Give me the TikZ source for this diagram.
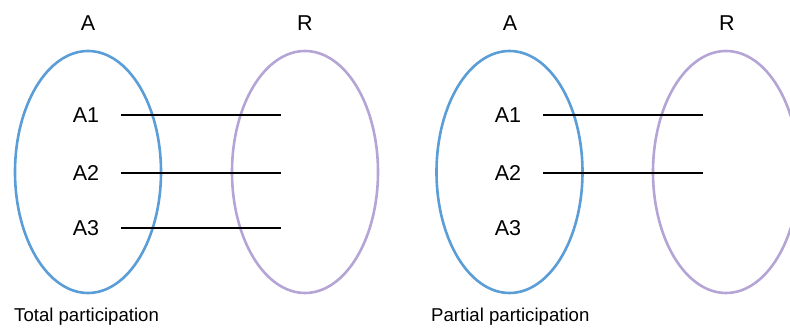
\documentclass[tikz,border=0pt]{standalone}
\usepackage{fontspec}
\setmainfont{Liberation Sans}
\usetikzlibrary{positioning,shapes.geometric}
\definecolor{setblue}{RGB}{91,157,214}
\definecolor{relpurple}{RGB}{180,165,214}

\begin{document}
\begin{tikzpicture}[x=1pt, y=-1pt,
  entityset/.style={ellipse, draw=setblue, line width=2.6pt, minimum width=146pt, minimum height=242pt, inner sep=0pt},
  relset/.style={ellipse, draw=relpurple, line width=2.6pt, minimum width=146pt, minimum height=242pt, inner sep=0pt},
  title/.style={font=\fontsize{21.5}{24}\selectfont, inner sep=0pt},
  elem/.style={font=\fontsize{21.5}{24}\selectfont, inner sep=0pt},
  caption/.style={font=\fontsize{18.6}{20}\selectfont, inner sep=0pt, anchor=west},
  link/.style={draw=black, line width=1.8pt}
]
\useasboundingbox (0,0) rectangle (790,328);
% total participation
\node[entityset] (setA) at (88,172) {};
\node[relset] (setR) at (305,172) {};
\node[title] (labA) at (88,23) {A};
\node[title] (labR) at (305,23) {R};
\node[elem] (a1) at (86,115) {A1};
\node[elem] (a2) at (86,173) {A2};
\node[elem] (a3) at (86,228) {A3};
\coordinate (r1) at (281,115);
\coordinate (r2) at (281,173);
\coordinate (r3) at (281,228);
\draw[link] ([xshift=22pt]a1.east) -- (r1);
\draw[link] ([xshift=22pt]a2.east) -- (r2);
\draw[link] ([xshift=22pt]a3.east) -- (r3);
\node[caption] (total) at (14,317) {Total participation};
% partial participation
\node[entityset] (setB) at (509.5,172) {};
\node[relset] (setS) at (726,172) {};
\node[title] (labB) at (510,23) {A};
\node[title] (labS) at (727,23) {R};
\node[elem] (b1) at (508,115) {A1};
\node[elem] (b2) at (508,173) {A2};
\node[elem] (b3) at (508,228) {A3};
\coordinate (s1) at (703,115);
\coordinate (s2) at (703,173);
\draw[link] ([xshift=22pt]b1.east) -- (s1);
\draw[link] ([xshift=22pt]b2.east) -- (s2);
\node[caption] (partial) at (431,317) {Partial participation};
\end{tikzpicture}
\end{document}
